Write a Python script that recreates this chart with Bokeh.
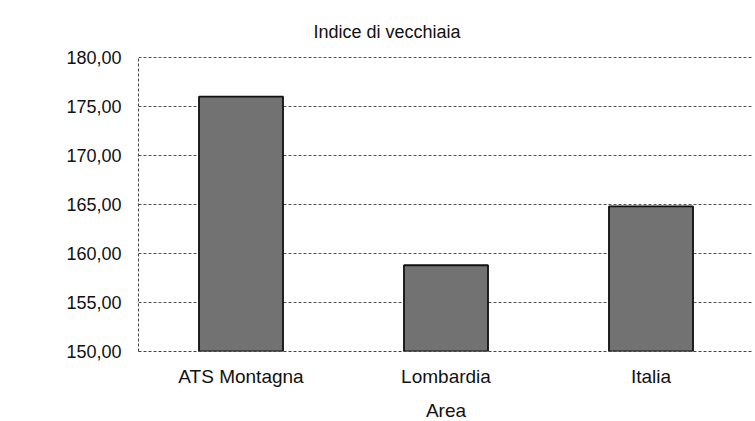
from bokeh.plotting import figure
from bokeh.models import FactorRange, Range1d, FixedTicker, CustomJSTickFormatter, ColumnDataSource
from bokeh.embed import file_html
from bokeh.resources import INLINE

categories = ["ATS Montagna", "Lombardia", "Italia"]
values = [176.0, 158.8, 164.8]
y_ticks = [150, 155, 160, 165, 170, 175, 180]

FONT = "Liberation Sans"

src = ColumnDataSource(dict(cat=categories, val=values))

p = figure(x_range=FactorRange(*categories, range_padding=0),
           y_range=Range1d(150, 180.1),
           width=755, height=421,
           frame_width=615, frame_height=295,
           min_border_left=138, min_border_top=56,
           min_border_bottom=70, min_border_right=2,
           output_backend="svg", toolbar_location=None,
           title="Indice di vecchiaia")

p.vbar(x="cat", top="val", bottom=150, width=0.41, source=src,
       fill_color="#727272", line_color="#111111", line_width=1.8)

p.title.text_font = FONT
p.title.text_font_size = "18px"
p.title.text_font_style = "normal"
p.title.align = "left"
p.title.offset = 175
p.title.standoff = 30
p.title.text_color = "#111111"

p.yaxis.ticker = FixedTicker(ticks=y_ticks)
p.yaxis.formatter = CustomJSTickFormatter(code="return tick.toFixed(2).replace('.', ',');")
for ax in (p.xaxis, p.yaxis):
    ax.major_label_text_font = FONT
    ax.major_label_text_color = "#111111"
    ax.major_tick_line_color = None
    ax.major_tick_out = 0
    ax.major_tick_in = 0
    ax.minor_tick_line_color = None
    ax.minor_tick_out = 0
    ax.axis_line_color = "#444444"
    ax.axis_line_dash = "3 2"
    ax.axis_line_width = 1

p.yaxis.major_label_text_font_size = "18px"
p.xaxis.major_label_text_font_size = "19px"
p.yaxis.major_label_standoff = 17
p.xaxis.major_label_standoff = 14
p.xaxis.axis_label = "Area"
p.xaxis.axis_label_text_font = FONT
p.xaxis.axis_label_text_font_size = "19px"
p.xaxis.axis_label_text_font_style = "normal"
p.xaxis.axis_label_text_color = "#111111"
p.xaxis.axis_label_standoff = 10

p.xgrid.grid_line_color = None
p.ygrid.grid_line_color = "#555555"
p.ygrid.grid_line_dash = "3 2"
p.ygrid.grid_line_width = 1
p.ygrid.ticker = FixedTicker(ticks=y_ticks)
p.outline_line_color = None

open("out.html", "w").write(file_html(p, INLINE))
